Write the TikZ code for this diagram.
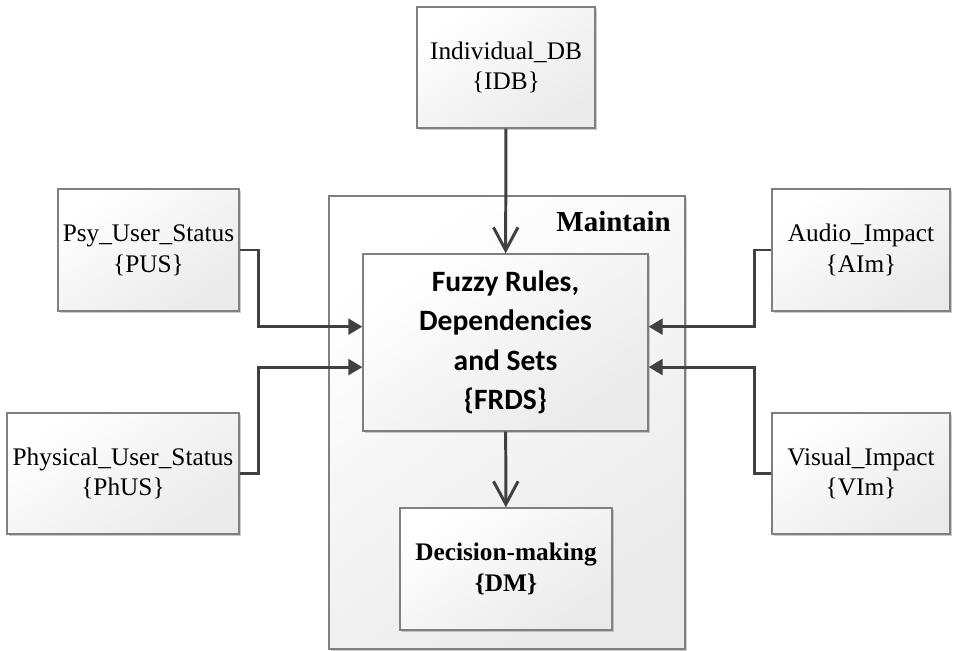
\documentclass[tikz,border=0pt]{standalone}
\usepackage{fontspec}
\setmainfont{Liberation Serif}
\newfontfamily\calibrifont{Carlito}
\usetikzlibrary{arrows.meta,positioning,shadows}
\definecolor{ink}{HTML}{404040}
\definecolor{edge}{HTML}{808080}
\definecolor{shade}{HTML}{EAEAEA}

\begin{document}
\begin{tikzpicture}[x=0.02cm,y=-0.02cm,
  box/.style={draw=edge,line width=0.8pt,top color=white,bottom color=shade,
    shading angle=35,drop shadow={shadow xshift=1.2pt,shadow yshift=-1.2pt,fill=black!40},
    align=center,inner sep=2pt,font=\fontsize{14.4}{17.5}\selectfont},
  feed/.style={draw=ink,line width=1.7pt,-{Triangle[length=8pt,width=9pt]}},
  flow/.style={draw=ink,line width=1.7pt,-{Straight Barb[length=13pt,width=14pt]}}]
 \useasboundingbox (0,0) rectangle (953,651);
 \node[box,minimum width=7.12cm,minimum height=9.06cm] (maintain) at (507,422.5) {};
 \node[anchor=east,font=\bfseries\fontsize{16.5}{20}\selectfont] (mlabel) at (677,222) {Maintain};
 \node[box,minimum width=3.56cm,minimum height=2.42cm] (idb) at (506,67.5) {Individual\_DB\\\{IDB\}};
 \node[box,minimum width=3.62cm,minimum height=2.44cm] (pus) at (148.5,250) {Psy\_User\_Status\\\{PUS\}};
 \node[box,minimum width=4.64cm,minimum height=2.42cm] (phus) at (123,473.5) {Physical\_User\_Status\\\{PhUS\}};
 \node[box,minimum width=3.56cm,minimum height=2.44cm] (aim) at (861,250) {Audio\_Impact\\\{AIm\}};
 \node[box,minimum width=3.56cm,minimum height=2.42cm] (vim) at (861,473.5) {Visual\_Impact\\\{VIm\}};
 \node[box,minimum width=5.7cm,minimum height=3.54cm,
   font=\calibrifont\bfseries\fontsize{16.8}{22.5}\selectfont] (frds) at (505.5,342.5)
   {Fuzzy Rules,\\Dependencies\\and Sets\\\{FRDS\}};
 \node[box,minimum width=4.24cm,minimum height=2.44cm,
   font=\bfseries\fontsize{14.4}{17.5}\selectfont] (dm) at (506,569) {Decision-making\\\{DM\}};
 \draw[flow] (idb) -- (frds);
 \draw[flow] (frds) -- (dm);
 \draw[feed] (pus.east) -- ++(19,0) |- ([yshift=9pt]frds.west);
 \draw[feed] (phus.east) -- ++(19,0) |- ([yshift=-14pt]frds.west);
 \draw[feed] (aim.west) -- ++(-17,0) |- ([yshift=9pt]frds.east);
 \draw[feed] (vim.west) -- ++(-17,0) |- ([yshift=-14pt]frds.east);
\end{tikzpicture}
\end{document}
